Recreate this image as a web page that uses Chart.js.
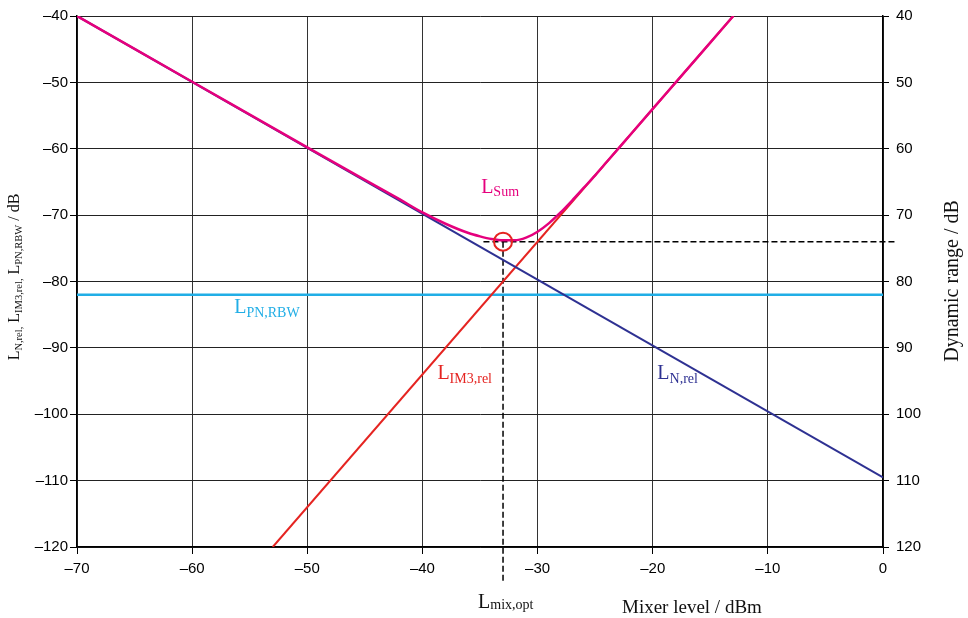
<!DOCTYPE html>
<html>
<head>
<meta charset="utf-8">
<script src="https://cdn.jsdelivr.net/npm/chart.js@4"></script>
<style>
  html, body { margin: 0; padding: 0; background: #fff; }
  #wrap { width: 968px; height: 618px; }
</style>
</head>
<body>
<div id="wrap"><canvas id="chart" width="968" height="618"></canvas></div>
<script>
// values
const xTicks = [-70, -60, -50, -40, -30, -20, -10, 0];
const leftTicks = [-120, -110, -100, -90, -80, -70, -60, -50, -40];
const rightTicks = [40, 50, 60, 70, 80, 90, 100, 110, 120];

const noiseX = [-70, 0];
const noiseY = [-40, -109.5];

const im3X = [-53.0, -13.0];
const im3Y = [-120, -40];

const pnX = [-70, 0];
const pnY = [-82, -82];

const sumX = [-70, -60, -50, -45, -42, -40, -38, -36, -35, -34, -33, -32, -31, -30, -29, -28, -27, -26, -25, -24, -22, -20, -18, -16, -14, -13];
const sumY = [-40, -49.9, -59.8, -64.7, -67.6, -69.6, -71.3, -72.7, -73.2, -73.6, -73.8, -73.8, -73.4, -72.5, -71.2, -69.6, -67.8, -65.9, -64.0, -62.0, -58.0, -54.0, -50.0, -46.0, -42.0, -40.0];

const optX = -33;     // L_mix,opt
const optY = -74;     // minimum of L_Sum
const hDashX = [-34.7, 1.2];
const vDashY = [-74, -125.3];

const MAGENTA = '#E5007D';
const RED = '#E52421';
const NAVY = '#2E3192';
const CYAN = '#21AEE6';

const toPts = (xs, ys) => xs.map((x, i) => ({ x: x, y: ys[i] }));
const dash = v => (v < 0 ? '\u2013' + Math.abs(v) : String(v));

// in-plot labels, placed in data coordinates
const notes = [
    { sub: 'Sum', x: -34.9, y: -66.6, color: MAGENTA },
    { sub: 'PN,RBW', x: -56.35, y: -84.8, color: CYAN },
    { sub: 'IM3,rel', x: -38.7, y: -94.7, color: RED },
    { sub: 'N,rel', x: -19.6, y: -94.7, color: NAVY },
];

const SERIF = '"Liberation Serif", "DejaVu Serif", serif';

function drawL(ctx, x, y, sub, big, small, drop) {
    ctx.font = big + 'px ' + SERIF;
    ctx.fillText('L', x, y);
    const w = ctx.measureText('L').width;
    ctx.font = small + 'px ' + SERIF;
    ctx.fillText(sub, x + w, y + drop);
    return w + ctx.measureText(sub).width;
}

const labelPlugin = {
    id: 'labels',
    afterDraw(chart) {
        const ctx = chart.ctx;
        const xs = chart.scales.x;
        const ys = chart.scales.y;
        ctx.save();
        ctx.textAlign = 'left';
        ctx.textBaseline = 'alphabetic';

        notes.forEach(n => {
            ctx.fillStyle = n.color;
            drawL(ctx, xs.getPixelForValue(n.x), ys.getPixelForValue(n.y), n.sub, 20, 14, 3.5);
        });

        ctx.fillStyle = '#111';
        // below the x axis
        drawL(ctx, xs.getPixelForValue(optX) - 25, 608, 'mix,opt', 20, 14, 0.5);
        ctx.font = '19px ' + SERIF;
        ctx.fillText('Mixer level / dBm', 622, 613);

        // right title
        ctx.save();
        ctx.translate(958, 281);
        ctx.rotate(-Math.PI / 2);
        ctx.textAlign = 'center';
        ctx.font = '20px ' + SERIF;
        ctx.fillText('Dynamic range / dB', 0, 0);
        ctx.restore();

        // left title, built from pieces with subscripts
        const parts = [
            ['L', 16, 0], ['N,rel,', 10.5, 3], [' ', 16, 0],
            ['L', 16, 0], ['IM3,rel,', 10.5, 3], [' ', 16, 0],
            ['L', 16, 0], ['PN,RBW', 10.5, 3], [' / dB', 16, 0],
        ];
        let total = 0;
        parts.forEach(p => { ctx.font = p[1] + 'px ' + SERIF; total += ctx.measureText(p[0]).width; });
        ctx.save();
        ctx.translate(19, 277);
        ctx.rotate(-Math.PI / 2);
        let cx = -total / 2;
        parts.forEach(p => {
            ctx.font = p[1] + 'px ' + SERIF;
            ctx.fillText(p[0], cx, p[2]);
            cx += ctx.measureText(p[0]).width;
        });
        ctx.restore();

        ctx.restore();
    }
};

const tickFont = { family: '"Liberation Sans", Arial, sans-serif', size: 15 };

new Chart(document.getElementById('chart'), {
    type: 'scatter',
    data: {
        datasets: [
            {
                label: 'opt',
                data: [{ x: optX, y: optY }],
                showLine: false,
                pointRadius: 9,
                pointBorderWidth: 2,
                pointBorderColor: RED,
                pointBackgroundColor: 'rgba(0,0,0,0)',
                order: 0,
            },
            {
                label: 'L_Sum',
                data: toPts(sumX, sumY),
                showLine: true,
                borderColor: MAGENTA,
                borderWidth: 2.5,
                pointRadius: 0,
                cubicInterpolationMode: 'monotone',
                order: 1,
            },
            {
                label: 'L_N,rel',
                data: toPts(noiseX, noiseY),
                showLine: true,
                borderColor: NAVY,
                borderWidth: 2,
                pointRadius: 0,
                order: 2,
            },
            {
                label: 'L_IM3,rel',
                data: toPts(im3X, im3Y),
                showLine: true,
                borderColor: RED,
                borderWidth: 2,
                pointRadius: 0,
                order: 3,
            },
            {
                label: 'L_PN,RBW',
                data: toPts(pnX, pnY),
                showLine: true,
                borderColor: CYAN,
                borderWidth: 2.5,
                pointRadius: 0,
                order: 4,
            },
            {
                label: 'hdash',
                data: toPts(hDashX, [optY, optY]),
                showLine: true,
                borderColor: '#000',
                borderWidth: 1.5,
                borderDash: [6, 3],
                pointRadius: 0,
                clip: false,
                order: 5,
            },
            {
                label: 'vdash',
                data: toPts([optX, optX], vDashY),
                showLine: true,
                borderColor: '#000',
                borderWidth: 1.5,
                borderDash: [6, 3],
                pointRadius: 0,
                clip: false,
                order: 5,
            },
        ]
    },
    options: {
        responsive: false,
        animation: false,
        devicePixelRatio: 1,
        layout: { padding: { top: 13, left: 0, right: 0, bottom: 0 } },
        plugins: { legend: { display: false }, tooltip: { enabled: false } },
        scales: {
            x: {
                type: 'linear',
                position: 'bottom',
                min: -70,
                max: 0,
                afterBuildTicks: s => { s.ticks = xTicks.map(v => ({ value: v })); },
                ticks: { font: tickFont, color: '#000', padding: 6, callback: dash, maxRotation: 0 },
                grid: { color: '#333', lineWidth: 1, tickLength: 7, tickColor: '#000' },
                border: { color: '#000', width: 1.5 },
                afterFit: s => { s.height = 71; },
            },
            y: {
                type: 'linear',
                position: 'left',
                min: -120,
                max: -40,
                afterBuildTicks: s => { s.ticks = leftTicks.map(v => ({ value: v })); },
                ticks: { font: tickFont, color: '#000', padding: 2, callback: dash },
                grid: { color: '#222', lineWidth: 1, tickLength: 7, tickColor: '#000' },
                border: { color: '#000', width: 1.5 },
                afterFit: s => { s.width = 77; },
            },
            y2: {
                type: 'linear',
                position: 'right',
                min: 40,
                max: 120,
                reverse: true,
                afterBuildTicks: s => { s.ticks = rightTicks.map(v => ({ value: v })); },
                ticks: { font: tickFont, color: '#000', padding: 7 },
                grid: { drawOnChartArea: false, tickLength: 6, tickColor: '#000' },
                border: { color: '#000', width: 1.5 },
                afterFit: s => { s.width = 85; },
            },
        }
    },
    plugins: [labelPlugin]
});
</script>
</body>
</html>
